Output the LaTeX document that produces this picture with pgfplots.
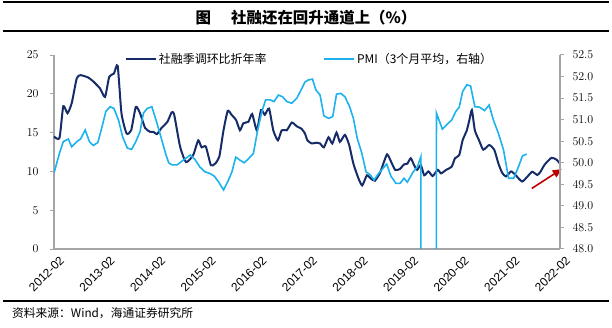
\documentclass[border=0pt]{standalone}
\usepackage{fontspec}
\setmainfont{Liberation Sans}
\newfontfamily\cjk{Noto Sans CJK SC}
\usepackage{pgfplots}
\pgfplotsset{compat=1.18}
\usetikzlibrary{arrows.meta}
\definecolor{navy}{RGB}{22,44,104}
\definecolor{lblue}{RGB}{28,178,238}
\definecolor{arrowred}{RGB}{192,0,0}
\definecolor{axgray}{RGB}{165,165,165}

\pgfplotstableread{
m v
0 14.5
1.3 14.3
2.2 18.4
3.2 17.5
4.2 18.8
5.4 22.0
6.3 22.4
8.1 22.1
9.3 21.6
10.9 20.7
12.1 19.6
13.1 22.2
14.2 22.6
15.1 23.6
16.0 17.5
17.2 14.9
18.3 15.3
19.4 18.3
20.4 17.5
21.6 15.6
22.8 15.1
23.6 15.1
24.4 14.8
25.5 15.6
26.9 16.4
27.9 17.6
28.5 17.3
29.9 13.2
31.3 11.2
33.0 12.1
34.2 14.0
35.0 13.1
36.0 13.2
37.2 10.8
38.2 11.0
39.2 11.9
40.2 15.3
41.2 17.8
42.1 17.3
43.2 16.6
44.1 15.3
44.9 16.2
46.1 16.4
47.0 17.4
48.1 15.3
49.1 17.9
50.0 17.3
51.0 18.1
52.0 15.3
53.1 14.0
54.0 15.3
55.2 15.3
56.4 16.3
57.6 15.8
58.7 15.5
59.5 14.9
60.1 14.0
61.1 13.6
62.3 13.7
63.1 13.6
64.0 13.1
65.1 14.4
66.0 13.6
67.0 15.0
67.8 13.8
69.0 14.7
70.0 13.4
71.0 11.0
72.2 9.1
73.1 8.2
74.2 9.5
75.1 9.1
76.1 8.8
77.3 9.8
78.1 11.0
79.0 12.2
79.9 11.3
80.9 10.2
82.0 10.3
83.0 10.9
83.8 11.0
84.6 11.7
85.4 10.8
86.1 10.2
87.0 10.8
87.8 9.5
88.8 10.0
89.8 9.4
91.0 10.2
91.8 9.75
93.0 10.2
94.3 10.6
95.1 11.7
96.1 12.1
96.9 14.0
97.9 15.3
98.5 16.6
99.1 17.9
99.8 15.3
100.8 14.0
101.8 12.8
103.2 13.4
104.4 12.8
105.4 11.0
106.3 9.8
107.2 9.35
108.4 10.0
109.5 9.5
111.0 8.7
112.3 9.35
113.4 9.95
114.6 9.55
115.3 9.9
116.4 10.9
118.0 11.75
119.2 11.5
120 11.0
}\sfdata

\pgfplotstableread{
m v
0 49.76
1.3 50.22
2.2 50.49
3.4 50.55
4.2 50.37
5.4 50.49
6.3 50.55
7.4 50.76
8.4 50.49
9.3 50.40
10.4 50.47
11.3 50.80
12.3 51.19
13.3 51.30
14.2 51.26
15.3 50.99
16.3 50.59
17.4 50.34
18.4 50.31
19.4 50.49
20.4 50.72
21.2 51.15
22.1 51.26
23.2 51.30
24.2 50.99
25.5 50.55
26.5 50.20
27.2 50.00
28.0 49.95
29.2 49.95
30.5 50.05
31.5 50.12
32.3 50.18
33.4 50.08
34.6 49.90
35.8 49.79
37.0 49.75
38.0 49.69
39.0 49.56
40.2 49.37
41.2 49.56
42.2 49.79
43.1 50.13
44.1 50.06
45.1 50.00
46.2 50.10
47.3 50.22
48.3 50.76
49.3 51.19
50.2 51.46
51.2 51.46
52.2 51.42
53.2 51.57
54.2 51.53
55.2 51.42
56.4 51.38
57.6 51.50
58.6 51.69
59.5 51.87
60.3 51.92
61.3 51.94
62.1 51.69
63.1 51.57
64.0 51.09
65.1 51.03
66.1 51.07
67.0 51.59
68.0 51.61
69.0 51.53
70.1 51.30
71.0 51.03
71.9 50.57
73.0 50.22
74.0 49.79
75.0 49.72
75.9 49.60
76.9 49.74
78.0 49.87
78.9 49.97
79.9 49.69
81.1 49.52
82.05 49.52
83.0 49.64
83.8 49.55
85.2 49.79
86.2 49.91
87.0 50.14
87.3 0
90.3 0
90.7 51.15
92.1 50.78
93.1 50.88
94.3 50.99
95.3 51.19
96.1 51.29
96.9 51.65
97.9 51.81
98.8 51.78
99.8 51.30
100.9 51.29
102.1 51.21
103.2 51.34
104.2 50.99
105.4 50.68
106.6 50.30
107.8 49.64
109.0 49.64
110.0 49.87
111.1 50.16
112.1 50.20
}\pmidata

\begin{document}
\begin{tikzpicture}[x=1bp,y=1bp]
\useasboundingbox (0,0) rectangle (612,327);
\draw[line width=1.2bp] (3,325) -- (609,325);
\draw[line width=1.5bp] (3,296) -- (609,296);
\node[font=\cjk\bfseries\fontsize{15.5}{17}\selectfont] at (306,309) {图\hspace{1.3em}社融还在回升通道上（\%）};
\draw[line width=1.2bp] (3,26) -- (609,26);
\node[anchor=west, inner sep=0, font=\cjk\fontsize{11.8}{13}\selectfont] at (12,14) {资料来源：Wind，海通证券研究所};

\begin{axis}[at={(54bp,78bp)}, anchor=south west, scale only axis,
  width=506bp, height=194bp,
  xmin=0, xmax=120, ymin=0, ymax=25,
  axis x line*=bottom, axis y line*=left,
  axis line style={axgray, line width=1.2bp},
  xtick={0,12,...,120},
  xticklabels={2012-02,2013-02,2014-02,2015-02,2016-02,2017-02,2018-02,2019-02,2020-02,2021-02,2022-02},
  x tick label style={rotate=45, anchor=north east, font=\fontsize{12}{12}\selectfont, inner sep=1bp, yshift=-4bp, xshift=3bp},
  x tick style={draw=none},
  ytick={0,5,...,25},
  y tick label style={font=\fontsize{11.5}{12}\selectfont, xshift=-8bp},
  y tick style={axgray, line width=1bp},
  tick align=outside, major tick length=4bp,
  clip=false]
\addplot[navy, line width=2bp, smooth, tension=0.35] table[x=m, y=v] {\sfdata};
\draw[arrowred, line width=1.6bp, -{Triangle[length=9bp,width=8bp]}] (axis cs:113.3,7.8) -- (axis cs:120.4,10.3);
\end{axis}

\begin{axis}[at={(54bp,78bp)}, anchor=south west, scale only axis,
  width=506bp, height=194bp,
  xmin=0, xmax=120, ymin=48, ymax=52.5,
  axis x line=none, axis y line*=right,
  axis line style={axgray, line width=1.2bp},
  ytick={48,48.5,49,49.5,50,50.5,51,51.5,52,52.5},
  y tick label style={font=\fontsize{11.5}{12}\selectfont, xshift=5bp, /pgf/number format/.cd, fixed, fixed zerofill, precision=1},
  y tick style={axgray, line width=1bp},
  tick align=outside, major tick length=4bp,
  legend columns=2,
  legend style={draw=none, fill=none, at={(0.505,0.98)}, anchor=center,
    font=\cjk\fontsize{12}{14}\selectfont, inner sep=0pt,
    /tikz/every even column/.append style={column sep=55bp}},
  legend image code/.code={\draw[#1] (0bp,0bp) -- (30bp,0bp);}]
\addlegendimage{navy, line width=2bp}
\addlegendentry{社融季调环比折年率}
\addplot[lblue, line width=1.6bp] table[x=m, y=v] {\pmidata};
\addlegendentry{PMI（3个月平均，右轴）}
\end{axis}
\end{tikzpicture}
\end{document}
